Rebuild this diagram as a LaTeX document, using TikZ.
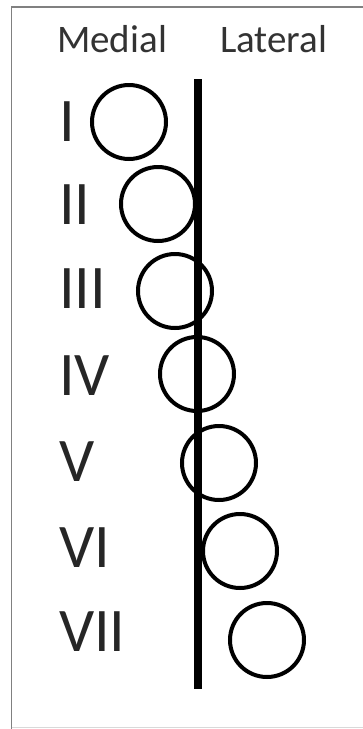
\documentclass[tikz,border=0pt]{standalone}
\usepackage{fontspec}
\setmainfont{Carlito}
\tikzset{
  frameline/.style={draw=black!50, line width=1.6pt},
  ring/.style={circle, draw=black, line width=4pt, minimum size=74pt, inner sep=0pt},
  numlabel/.style={anchor=west, inner sep=0pt, font=\fontsize{62}{62}\selectfont, text=black!85},
  headlabel/.style={anchor=base west, inner sep=0pt, font=\fontsize{39}{39}\selectfont, text=black!80},
}
\begin{document}
\begin{tikzpicture}[x=1pt,y=-1pt]
\useasboundingbox (0,0) rectangle (363,729);
\fill[white] (0,0) rectangle (363,729);
% frame
\coordinate (ftr) at (363,7);
\coordinate (ftl) at (11.5,7);
\coordinate (fbl) at (11.5,729);
\draw[frameline] (ftr) -- (ftl) -- (fbl);
\coordinate (bbl) at (11.5,727);
\coordinate (bbr) at (363,727);
\draw[draw=black!15, line width=1pt] (bbl) -- (bbr);
% headers
\node[headlabel] (medial) at (57,52) {Medial};
\node[headlabel] (lateral) at (220,52) {Lateral};
% midline
\coordinate (ltop) at (198,79);
\coordinate (lbot) at (198,689);
\draw[line width=8pt] (ltop) -- (lbot);
% circles
\node[ring] (c1) at (129,122) {};
\node[ring] (c2) at (158,204) {};
\node[ring] (c3) at (175,291) {};
\node[ring] (c4) at (197,374) {};
\node[ring] (c5) at (219,463) {};
\node[ring] (c6) at (240,551) {};
\node[ring] (c7) at (267,640) {};
% labels
\node[numlabel] (l1) at (59,122) {I};
\node[numlabel] (l2) at (59,205) {II};
\node[numlabel] (l3) at (59,289) {III};
\node[numlabel] (l4) at (59,376) {IV};
\node[numlabel] (l5) at (59,462) {V};
\node[numlabel] (l6) at (59,548) {VI};
\node[numlabel] (l7) at (59,632) {VII};
\end{tikzpicture}
\end{document}
